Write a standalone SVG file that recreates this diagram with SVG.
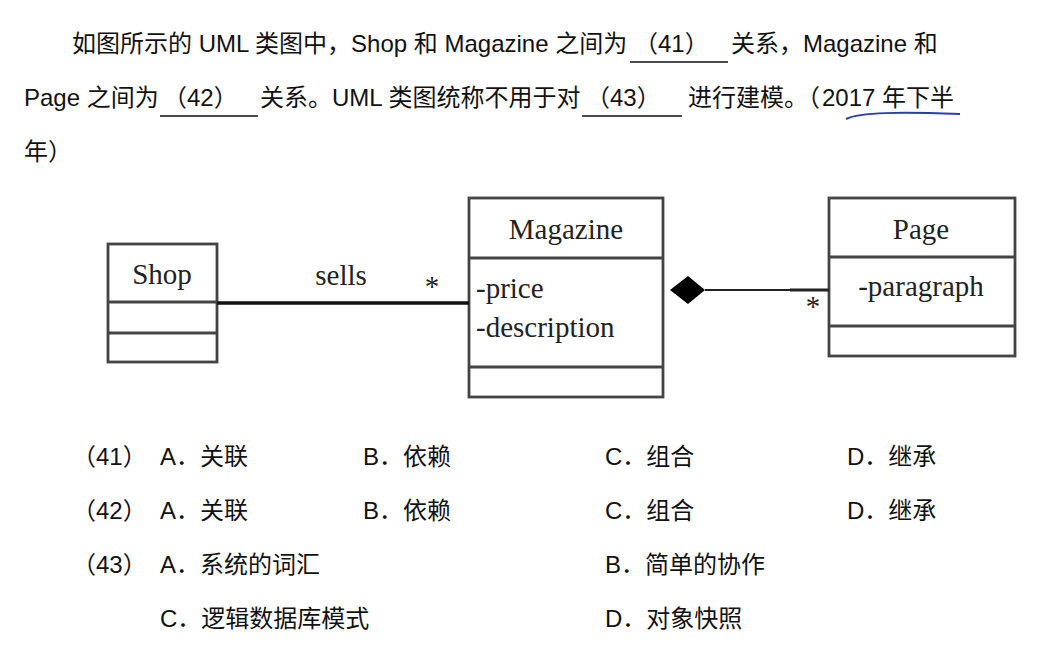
<svg xmlns="http://www.w3.org/2000/svg" width="1046" height="651" viewBox="0 0 1046 651">
<style>
.t{font-family:"Liberation Sans","Noto Sans CJK SC",sans-serif;font-size:24px;fill:#111}
.o{font-family:"Liberation Sans","Noto Sans CJK SC",sans-serif;font-size:24px;fill:#111}
.u{stroke:#111;stroke-width:1.5}
.box{fill:#fff;stroke:#444;stroke-width:2.8}
.div{stroke:#444;stroke-width:2.8}
.n{font-family:"Liberation Serif","Times New Roman",serif;font-size:29px;fill:#222}
</style>
<rect width="1046" height="651" fill="#fff"/>
<g id="question">
<text class="t" x="72" y="52">如图所示的 UML 类图中，Shop 和 Magazine 之间为</text>
<line class="u" x1="630" y1="62" x2="728" y2="62"/>
<text class="t" x="634" y="52">（41）</text>
<text class="t" x="731" y="52">关系，Magazine 和</text>
<text class="t" x="24" y="106">Page 之间为</text>
<line class="u" x1="160" y1="116" x2="258" y2="116"/>
<text class="t" x="163" y="106">（42）</text>
<text class="t" x="260" y="106">关系。UML 类图统称不用于对</text>
<line class="u" x1="582" y1="116" x2="682" y2="116"/>
<text class="t" x="586" y="106">（43）</text>
<text class="t" x="688" y="106">进行建模。（</text>
<text class="t" x="822" y="106">2017 年下半</text>
<text class="t" x="24" y="160">年）</text>
<path d="M846,119 C860,112 900,112 960,114" fill="none" stroke="#2a3db0" stroke-width="2"/>
</g>
<g id="Shop">
<rect class="box" x="108" y="244" width="109" height="118"/>
<line class="div" x1="108" y1="302" x2="217" y2="302"/>
<line class="div" x1="108" y1="333" x2="217" y2="333"/>
<text class="n" x="162" y="284" text-anchor="middle" font-size="28">Shop</text>
</g>
<g id="Magazine">
<rect class="box" x="469" y="198" width="194" height="199"/>
<line class="div" x1="469" y1="258" x2="663" y2="258"/>
<line class="div" x1="469" y1="367" x2="663" y2="367"/>
<text class="n" x="566" y="239" text-anchor="middle">Magazine</text>
<text class="n" x="476" y="298">-price</text>
<text class="n" x="476" y="337">-description</text>
</g>
<g id="Page">
<rect class="box" x="829" y="198" width="186" height="158"/>
<line class="div" x1="829" y1="257" x2="1015" y2="257"/>
<line class="div" x1="829" y1="326" x2="1015" y2="326"/>
<text class="n" x="921" y="239" text-anchor="middle">Page</text>
<text class="n" x="921" y="296" text-anchor="middle">-paragraph</text>
</g>
<g id="connectors">
<line x1="217" y1="303" x2="469" y2="303" stroke="#111" stroke-width="3.5"/>
<text class="n" x="341" y="285" text-anchor="middle" font-size="28">sells</text>
<text class="n" x="432" y="296" text-anchor="middle" font-size="22">*</text>
<path d="M670,290 L688,276 L705,290 L688,304 Z" fill="#000"/>
<line x1="705" y1="290" x2="829" y2="290" stroke="#222" stroke-width="1.8"/>
<line x1="790" y1="290" x2="829" y2="290" stroke="#222" stroke-width="3"/>
<text class="n" x="813" y="316" text-anchor="middle" font-size="22">*</text>
</g>
<g id="options">
<text class="o" x="72" y="465">（41）</text>
<text class="o" x="160" y="465">A．关联</text>
<text class="o" x="363" y="465">B．依赖</text>
<text class="o" x="605" y="465">C．组合</text>
<text class="o" x="847" y="465">D．继承</text>
<text class="o" x="72" y="519">（42）</text>
<text class="o" x="160" y="519">A．关联</text>
<text class="o" x="363" y="519">B．依赖</text>
<text class="o" x="605" y="519">C．组合</text>
<text class="o" x="847" y="519">D．继承</text>
<text class="o" x="72" y="573">（43）</text>
<text class="o" x="160" y="573">A．系统的词汇</text>
<text class="o" x="605" y="573">B．简单的协作</text>
<text class="o" x="160" y="627">C．逻辑数据库模式</text>
<text class="o" x="605" y="627">D．对象快照</text>
</g>
</svg>
